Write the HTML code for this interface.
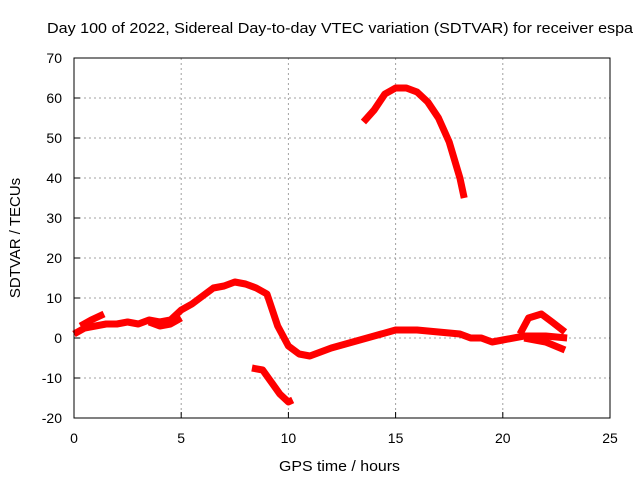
<!DOCTYPE html>
<html><head><meta charset="utf-8"><style>
body{margin:0;background:#fff;font-family:"Liberation Sans",sans-serif}
svg text{font-family:"Liberation Sans",sans-serif;fill:#000}
</style></head><body>
<svg id="c" width="640" height="480">
<text x="47" y="33" font-size="15" textLength="586" lengthAdjust="spacingAndGlyphs">Day 100 of 2022, Sidereal Day-to-day VTEC variation (SDTVAR) for receiver espa</text>
<text x="279" y="471" font-size="15" textLength="121" lengthAdjust="spacingAndGlyphs">GPS time / hours</text>
<text x="20" y="238" font-size="15" text-anchor="middle" transform="rotate(-90 20 238)">SDTVAR / TECUs</text>
<g id="grid"></g><g id="marks"></g>
<rect x="74" y="58" width="536" height="360" fill="none" stroke="#000"/>
</svg>
<script>
const xTicks=[0,5,10,15,20,25];
const yTicks=[-20,-10,0,10,20,30,40,50,60,70];
const mainHours=[0,0.5,1,1.5,2,2.5,3,3.5,4,4.5,5,5.5,6,6.5,7,7.5,8,8.5,9,9.5,10,10.5,11,11.5,12,13,14,15,16,17,18,18.5,19,19.5,20,21,22,23];
const mainValues=[1,2.5,3,3.5,3.5,4,3.5,4.5,4,4.5,7,8.5,10.5,12.5,13,14,13.5,12.5,11,3,-2,-4,-4.5,-3.5,-2.5,-1,0.5,2,2,1.5,1,0,0,-1,-0.5,0.5,0.5,0];
const branchAHours=[0.3,0.8,1.4];
const branchAValues=[3,4.5,6];
const branchBHours=[3.5,4,4.5,5];
const branchBValues=[4,3,3.5,5];
const branchCHours=[20.8,21.2,21.8,22.3,22.9];
const branchCValues=[1,5,6,4,1.5];
const branchDHours=[21,22,22.9];
const branchDValues=[0,-1,-3];
const lowHours=[8.3,8.8,9.2,9.6,10,10.2];
const lowValues=[-7.5,-8,-11,-14,-16,-15.5];
const highHours=[13.5,14,14.5,15,15.5,16,16.5,17,17.5,18,18.2];
const highValues=[54,57,61,62.5,62.5,61.5,59,55,49,40,35];
const X=h=>74+h*536/25, Y=v=>418-(v+20)*4;
const NS="http://www.w3.org/2000/svg";
const grid=document.getElementById('grid'),marks=document.getElementById('marks');
function el(t,a,p){const e=document.createElementNS(NS,t);for(const k in a)e.setAttribute(k,a[k]);p.appendChild(e);return e;}
xTicks.forEach(t=>{
 if(t>0&&t<25){const l=el('line',{x1:X(t),x2:X(t),y1:58,y2:418,stroke:'#a0a0a0','stroke-dasharray':'2,3'},grid);
 
 }
 el('line',{x1:X(t),x2:X(t),y1:418,y2:412,stroke:'#000'},grid);
 const tx=el('text',{x:X(t),y:443,'font-size':14,'text-anchor':'middle'},grid);tx.textContent=t;
 
 
});
yTicks.forEach(t=>{
 if(t>-20&&t<70){const l=el('line',{x1:74,x2:610,y1:Y(t),y2:Y(t),stroke:'#a0a0a0','stroke-dasharray':'2,3'},grid);
 
 }
 el('line',{x1:74,x2:80,y1:Y(t),y2:Y(t),stroke:'#000'},grid);
 const tx=el('text',{x:62,y:Y(t)+5,'font-size':14,'text-anchor':'end'},grid);tx.textContent=t;
 
 
});
function series(hs,vs,name){
 const p=el('polyline',{points:hs.map((h,i)=>X(h)+','+Y(vs[i])).join(' '),fill:'none',stroke:'#ff0000','stroke-width':7,'stroke-linejoin':'round','stroke-linecap':'butt'},marks);
 
 
}
series(mainHours,mainValues,'sdtvar-main-series');
series(branchAHours,branchAValues,'sdtvar-branch-a');
series(branchBHours,branchBValues,'sdtvar-branch-b');
series(branchCHours,branchCValues,'sdtvar-branch-c');
series(branchDHours,branchDValues,'sdtvar-branch-d');
series(lowHours,lowValues,'sdtvar-low-series');
series(highHours,highValues,'sdtvar-high-series');
</script>
</body></html>
